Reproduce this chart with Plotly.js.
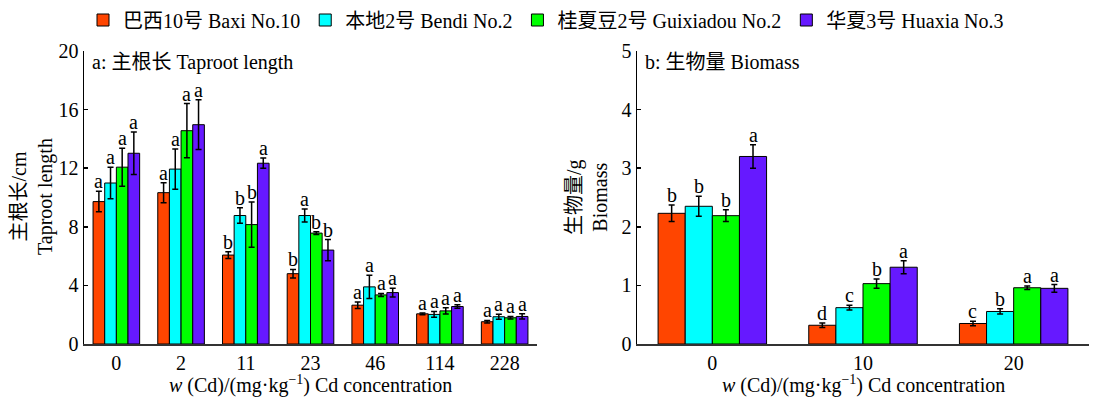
<!DOCTYPE html>
<html>
<head>
<meta charset="utf-8">
<script src="https://cdn.plot.ly/plotly-3.0.1.min.js"></script>
<style>html,body{margin:0;padding:0;background:#fff}#chart{width:1093px;height:397px}</style>
</head>
<body>
<div id="chart"></div>
<script>
// ---- data ----
const seriesNames = ["巴西10号 Baxi No.10", "本地2号 Bendi No.2", "桂夏豆2号 Guixiadou No.2", "华夏3号 Huaxia No.3"];
const colors = ["#FF4500", "#00FFFF", "#00FF00", "#6619FF"];

// panel a: taproot length (cm)
const catsA = ["0", "2", "11", "23", "46", "114", "228"];
const taprootBaxi    = [9.72, 10.33, 6.07, 4.80, 2.65, 2.06, 1.52];
const taprootBendi   = [10.99, 11.94, 8.77, 8.77, 3.90, 2.02, 1.86];
const taprootGuixia  = [12.07, 14.56, 8.15, 7.57, 3.35, 2.26, 1.79];
const taprootHuaxia  = [13.02, 14.97, 12.34, 6.41, 3.51, 2.56, 1.88];
const taprootErrBaxi   = [0.70, 0.68, 0.23, 0.29, 0.22, 0.06, 0.09];
const taprootErrBendi  = [1.07, 1.37, 0.53, 0.44, 0.80, 0.20, 0.17];
const taprootErrGuixia = [1.30, 1.85, 1.55, 0.09, 0.10, 0.22, 0.09];
const taprootErrHuaxia = [1.45, 1.70, 0.35, 0.72, 0.30, 0.12, 0.18];
const lettersA = [
  ["a","a","b","b","a","a","a"],
  ["a","a","b","a","a","a","a"],
  ["a","a","b","b","a","a","a"],
  ["a","a","a","b","a","a","a"]
];

// panel b: biomass (g)
const catsB = ["0", "10", "20"];
const biomassBaxi   = [2.23, 0.32, 0.35];
const biomassBendi  = [2.35, 0.62, 0.555];
const biomassGuixia = [2.19, 1.03, 0.96];
const biomassHuaxia = [3.20, 1.31, 0.95];
const biomassErrBaxi   = [0.14, 0.04, 0.04];
const biomassErrBendi  = [0.17, 0.04, 0.045];
const biomassErrGuixia = [0.10, 0.08, 0.03];
const biomassErrHuaxia = [0.20, 0.11, 0.065];
const lettersB = [
  ["b","d","c"],
  ["b","c","b"],
  ["b","b","a"],
  ["a","a","a"]
];

const tickValsA = [0, 4, 8, 12, 16, 20];
const tickValsB = [0, 1, 2, 3, 4, 5];
// ---- build ----
const FONT = "'Liberation Serif', 'Times New Roman', 'Noto Sans CJK SC', serif";
const FS = 20;
const valsA = [taprootBaxi, taprootBendi, taprootGuixia, taprootHuaxia];
const errsA = [taprootErrBaxi, taprootErrBendi, taprootErrGuixia, taprootErrHuaxia];
const valsB = [biomassBaxi, biomassBendi, biomassGuixia, biomassHuaxia];
const errsB = [biomassErrBaxi, biomassErrBendi, biomassErrGuixia, biomassErrHuaxia];

const BARGAP = 0.28;
const traces = [];
const annotations = [];
const idxA = catsA.map((c, i) => i);
const idxB = catsB.map((c, i) => i);
const w = (1 - BARGAP) / 4;

for (let s = 0; s < 4; s++) {
  traces.push({
    type: "bar", name: seriesNames[s], x: idxA, y: valsA[s],
    xaxis: "x", yaxis: "y", legendgroup: "s" + s,
    marker: {color: colors[s], line: {color: "#000", width: 1}},
    error_y: {type: "data", array: errsA[s], visible: true, color: "#000", thickness: 1.5, width: 3}
  });
  traces.push({
    type: "bar", name: seriesNames[s], x: idxB, y: valsB[s],
    xaxis: "x2", yaxis: "y2", legendgroup: "s" + s, showlegend: false,
    marker: {color: colors[s], line: {color: "#000", width: 1}},
    error_y: {type: "data", array: errsB[s], visible: true, color: "#000", thickness: 1.5, width: 3}
  });
  idxA.forEach(i => annotations.push({
    xref: "x", yref: "y", x: i + (s - 1.5) * w, y: valsA[s][i] + errsA[s][i],
    text: lettersA[s][i], showarrow: false, yanchor: "bottom", yshift: -3,
    font: {family: FONT, size: FS, color: "#000"}
  }));
  idxB.forEach(i => annotations.push({
    xref: "x2", yref: "y2", x: i + (s - 1.5) * w, y: valsB[s][i] + errsB[s][i],
    text: lettersB[s][i], showarrow: false, yanchor: "bottom", yshift: -3,
    font: {family: FONT, size: FS, color: "#000"}
  }));
}

// panel labels and axis titles
annotations.push(
  {xref: "paper", yref: "paper", x: 90/1093, y: 1 - 62/397, xanchor: "left", yanchor: "middle",
   text: "a: 主根长 Taproot length", showarrow: false, font: {family: FONT, size: FS, color: "#000"}},
  {xref: "paper", yref: "paper", x: 643/1093, y: 1 - 62/397, xanchor: "left", yanchor: "middle",
   text: "b: 生物量 Biomass", showarrow: false, font: {family: FONT, size: FS, color: "#000"}},
  {xref: "paper", yref: "paper", x: 32/1093, y: 1 - 197/397, xanchor: "center", yanchor: "middle",
   text: "主根长/cm<br>Taproot length", textangle: -90, showarrow: false,
   font: {family: FONT, size: FS, color: "#000"}},
  {xref: "paper", yref: "paper", x: 587/1093, y: 1 - 197/397, xanchor: "center", yanchor: "middle",
   text: "生物量/g<br>Biomass", textangle: -90, showarrow: false,
   font: {family: FONT, size: FS, color: "#000"}},
  {xref: "paper", yref: "paper", x: 310/1093, y: 1 - 384/397, xanchor: "center", yanchor: "middle",
   text: "<i>w</i> (Cd)/(mg·kg<sup>−1</sup>) Cd concentration", showarrow: false,
   font: {family: FONT, size: FS, color: "#000"}},
  {xref: "paper", yref: "paper", x: 863/1093, y: 1 - 384/397, xanchor: "center", yanchor: "middle",
   text: "<i>w</i> (Cd)/(mg·kg<sup>−1</sup>) Cd concentration", showarrow: false,
   font: {family: FONT, size: FS, color: "#000"}}
);

const yDom = [(397 - 344) / 397, (397 - 51) / 397];
const axisCommon = {showgrid: false, zeroline: false, showline: true, linecolor: "#000", linewidth: 1.5,
  tickfont: {family: FONT, size: FS, color: "#000"}, fixedrange: true};

const layout = {
  width: 1093, height: 397,
  margin: {l: 0, r: 0, t: 0, b: 0},
  paper_bgcolor: "#fff", plot_bgcolor: "#fff",
  font: {family: FONT, size: FS, color: "#000"},
  barmode: "group", bargap: BARGAP, bargroupgap: 0,
  showlegend: true,
  legend: {orientation: "h", x: 546/1093, xanchor: "center", y: 1 - 20/397, yanchor: "middle",
    font: {family: FONT, size: FS, color: "#000"}, itemwidth: 30, tracegroupgap: 0},
  xaxis: Object.assign({}, axisCommon, {domain: [84/1093, 537/1093], range: [-0.5, catsA.length - 0.5],
    tickvals: idxA, ticktext: catsA, ticks: "", anchor: "y", linecolor: "#333"}),
  yaxis: Object.assign({}, axisCommon, {domain: yDom, range: [0, 20], tickvals: tickValsA, ticks: "inside",
    ticklen: 4, tickwidth: 1.5, tickcolor: "#000", anchor: "x"}),
  xaxis2: Object.assign({}, axisCommon, {domain: [637/1093, 1089/1093], range: [-0.5, catsB.length - 0.5],
    tickvals: idxB, ticktext: catsB, ticks: "", anchor: "y2", linecolor: "#333"}),
  yaxis2: Object.assign({}, axisCommon, {domain: yDom, range: [0, 5], tickvals: tickValsB, ticks: "inside",
    ticklen: 4, tickwidth: 1.5, tickcolor: "#000", anchor: "x2"}),
  annotations: annotations
};

Plotly.newPlot("chart", traces, layout, {displayModeBar: false, staticPlot: true});
</script>
</body>
</html>
